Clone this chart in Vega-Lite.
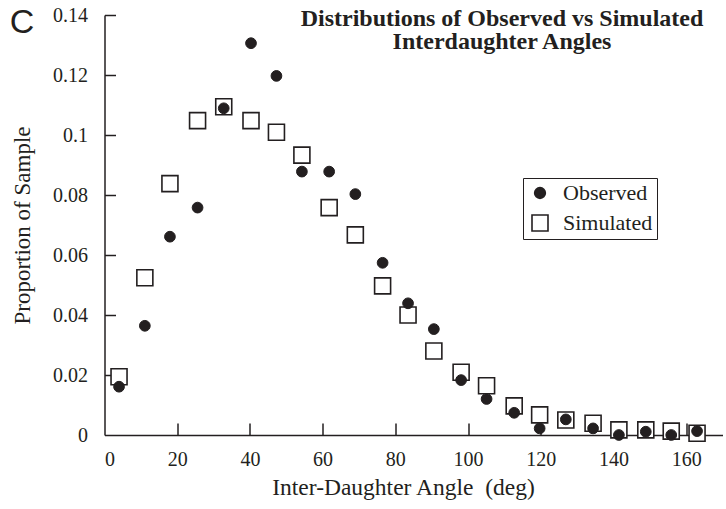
{
  "$schema": "https://vega.github.io/schema/vega-lite/v6.json",
  "width": 618,
  "height": 420,
  "autosize": {"type": "none"},
  "padding": {"left": 104.5, "top": 15, "right": 3.5, "bottom": 74},
  "background": "white",
  "config": {
    "view": {"stroke": null},
    "font": "Liberation Serif",
    "axis": {"grid": false, "domainColor": "#231f20", "labelColor": "#231f20", "titleColor": "#231f20", "domainWidth": 1.5}
  },
  "title": {
    "text": ["Distributions of Observed vs Simulated", "Interdaughter Angles"],
    "font": "Liberation Serif",
    "fontSize": 24,
    "fontWeight": "bold",
    "color": "#231f20",
    "lineHeight": 23.5,
    "anchor": "middle",
    "frame": "group",
    "baseline": "top",
    "offset": 0,
    "dx": 88.5,
    "dy": 49
  },
  "data": {
    "values": [
      {"angle": 4.0, "proportion": 0.0194, "series": "Simulated"},
      {"angle": 11.1, "proportion": 0.0524, "series": "Simulated"},
      {"angle": 18.0, "proportion": 0.0838, "series": "Simulated"},
      {"angle": 25.6, "proportion": 0.1048, "series": "Simulated"},
      {"angle": 32.8, "proportion": 0.1094, "series": "Simulated"},
      {"angle": 40.3, "proportion": 0.1048, "series": "Simulated"},
      {"angle": 47.3, "proportion": 0.1009, "series": "Simulated"},
      {"angle": 54.3, "proportion": 0.0933, "series": "Simulated"},
      {"angle": 61.8, "proportion": 0.0758, "series": "Simulated"},
      {"angle": 69.0, "proportion": 0.0667, "series": "Simulated"},
      {"angle": 76.5, "proportion": 0.0497, "series": "Simulated"},
      {"angle": 83.5, "proportion": 0.0400, "series": "Simulated"},
      {"angle": 90.6, "proportion": 0.0280, "series": "Simulated"},
      {"angle": 98.1, "proportion": 0.0209, "series": "Simulated"},
      {"angle": 105.1, "proportion": 0.0164, "series": "Simulated"},
      {"angle": 112.7, "proportion": 0.0097, "series": "Simulated"},
      {"angle": 119.7, "proportion": 0.0067, "series": "Simulated"},
      {"angle": 126.9, "proportion": 0.0050, "series": "Simulated"},
      {"angle": 134.4, "proportion": 0.0039, "series": "Simulated"},
      {"angle": 141.5, "proportion": 0.0017, "series": "Simulated"},
      {"angle": 148.9, "proportion": 0.0017, "series": "Simulated"},
      {"angle": 155.9, "proportion": 0.0013, "series": "Simulated"},
      {"angle": 163.0, "proportion": 0.0006, "series": "Simulated"},
      {"angle": 4.0, "proportion": 0.0161, "series": "Observed"},
      {"angle": 11.1, "proportion": 0.0364, "series": "Observed"},
      {"angle": 18.0, "proportion": 0.0661, "series": "Observed"},
      {"angle": 25.6, "proportion": 0.0758, "series": "Observed"},
      {"angle": 32.8, "proportion": 0.1089, "series": "Observed"},
      {"angle": 40.3, "proportion": 0.1306, "series": "Observed"},
      {"angle": 47.3, "proportion": 0.1197, "series": "Observed"},
      {"angle": 54.3, "proportion": 0.0878, "series": "Observed"},
      {"angle": 61.8, "proportion": 0.0878, "series": "Observed"},
      {"angle": 69.0, "proportion": 0.0803, "series": "Observed"},
      {"angle": 76.5, "proportion": 0.0574, "series": "Observed"},
      {"angle": 83.5, "proportion": 0.0439, "series": "Observed"},
      {"angle": 90.6, "proportion": 0.0353, "series": "Observed"},
      {"angle": 98.1, "proportion": 0.0183, "series": "Observed"},
      {"angle": 105.1, "proportion": 0.0120, "series": "Observed"},
      {"angle": 112.7, "proportion": 0.0074, "series": "Observed"},
      {"angle": 119.7, "proportion": 0.0022, "series": "Observed"},
      {"angle": 126.9, "proportion": 0.0052, "series": "Observed"},
      {"angle": 134.4, "proportion": 0.0022, "series": "Observed"},
      {"angle": 141.5, "proportion": 0.0000, "series": "Observed"},
      {"angle": 148.9, "proportion": 0.0011, "series": "Observed"},
      {"angle": 155.9, "proportion": 0.0000, "series": "Observed"},
      {"angle": 163.0, "proportion": 0.0013, "series": "Observed"}
    ]
  },
  "encoding": {
    "shape": {
      "field": "series",
      "type": "nominal",
      "scale": {"domain": ["Observed", "Simulated"], "range": ["circle", "square"]},
      "legend": {
        "title": null,
        "orient": "none",
        "legendX": 418.5,
        "legendY": 163,
        "labelFont": "Liberation Serif",
        "labelFontSize": 22,
        "labelColor": "#231f20",
        "labelExpr": "datum.label + '\u00a0\u00a0\u00a0'",
        "strokeColor": "#231f20",
        "fillColor": "white",
        "padding": 4,
        "rowPadding": 7,
        "symbolOffset": 2,
        "labelOffset": 12,
        "symbolStrokeColor": "#231f20",
        "symbolStrokeWidth": 1.6
      }
    },
    "fill": {
      "field": "series",
      "type": "nominal",
      "scale": {"domain": ["Observed", "Simulated"], "range": ["#231f20", "white"]}
    },
    "size": {
      "field": "series",
      "type": "nominal",
      "scale": {"domain": ["Observed", "Simulated"], "range": [115, 256]}
    }
  },
  "layer": [
    {
      "transform": [{"filter": "datum.series === 'Simulated'"}],
      "mark": {"type": "point", "filled": true, "stroke": "#231f20", "strokeWidth": 1.6, "opacity": 1},
      "encoding": {
        "x": {
          "field": "angle",
          "type": "quantitative",
          "scale": {"domain": [0, 170], "nice": false, "zero": false},
          "axis": {
            "orient": "bottom",
            "values": [0, 20, 40, 60, 80, 100, 120, 140, 160],
            "ticks": false,
            "labelPadding": 14,
            "labelFontSize": 20,
            "labelFont": "Liberation Serif",
            "title": "Inter-Daughter Angle\u00a0 (deg)",
            "titleFont": "Liberation Serif",
            "titleFontSize": 23.5,
            "titleFontWeight": "normal",
            "titlePadding": 6,
            "titleX": 298.5
          }
        },
        "y": {
          "field": "proportion",
          "type": "quantitative",
          "scale": {"domain": [0, 0.14], "nice": false},
          "axis": {
            "orient": "left",
            "values": [0, 0.02, 0.04, 0.06, 0.08, 0.1, 0.12, 0.14],
            "format": "~g",
            "ticks": false,
            "labelPadding": 17,
            "labelFontSize": 20,
            "labelFont": "Liberation Serif",
            "title": "Proportion of Sample",
            "titleFont": "Liberation Serif",
            "titleFontSize": 23,
            "titleFontWeight": "normal",
            "titlePadding": 18
          }
        }
      }
    },
    {
      "transform": [{"filter": "datum.series === 'Observed'"}],
      "mark": {"type": "point", "filled": true, "stroke": "#231f20", "strokeWidth": 1, "opacity": 1},
      "encoding": {
        "x": {
          "field": "angle",
          "type": "quantitative",
          "scale": {"domain": [0, 170], "nice": false, "zero": false},
          "axis": {
            "orient": "top",
            "offset": -420,
            "values": [20, 40, 60, 80, 100, 120, 140, 160],
            "domain": false,
            "labels": false,
            "ticks": true,
            "tickSize": 12,
            "tickColor": "#231f20",
            "tickWidth": 1.5,
            "tickOpacity": 1,
            "title": null
          }
        },
        "y": {
          "field": "proportion",
          "type": "quantitative",
          "scale": {"domain": [0, 0.14], "nice": false},
          "axis": {
            "orient": "right",
            "offset": -618,
            "values": [0.02, 0.04, 0.06, 0.08, 0.1, 0.12, 0.14],
            "domain": false,
            "ticks": true,
            "tickSize": 11,
            "tickColor": "#231f20",
            "tickWidth": 1.5,
            "tickOpacity": 1,
            "labels": false,
            "title": "C",
            "titleAngle": 0,
            "titleFont": "Liberation Sans",
            "titleFontSize": 34,
            "titleFontWeight": "normal",
            "titleAlign": "center",
            "titleBaseline": "middle",
            "titleX": -83,
            "titleY": 7
          }
        }
      }
    }
  ],
  "resolve": {"scale": {"x": "independent", "y": "independent"}}
}
